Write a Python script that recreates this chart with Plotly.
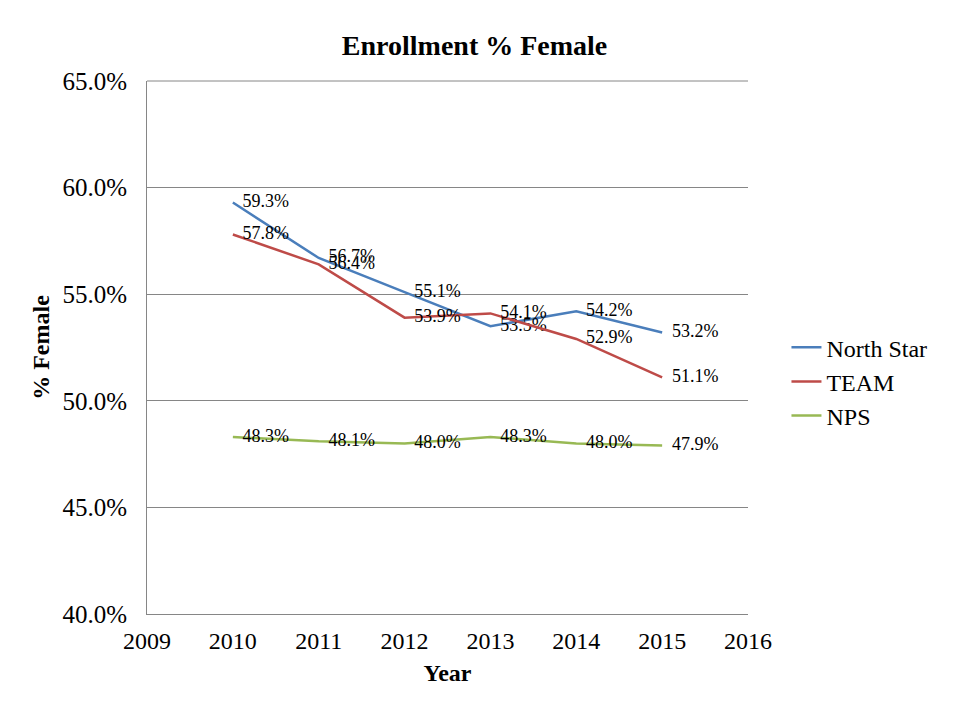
import plotly.graph_objects as go

years = [2010, 2011, 2012, 2013, 2014, 2015]
north_star = [59.3, 56.7, 55.1, 53.5, 54.2, 53.2]
team = [57.8, 56.4, 53.9, 54.1, 52.9, 51.1]
nps = [48.3, 48.1, 48.0, 48.3, 48.0, 47.9]

series = [
    ("North Star", north_star, "#4a7ebb"),
    ("TEAM", team, "#be4b48"),
    ("NPS", nps, "#98b954"),
]

FONT = "Liberation Serif, Times New Roman, serif"

fig = go.Figure()
for name, vals, color in series:
    fig.add_trace(go.Scatter(
        x=years, y=vals, name=name, mode="lines+markers+text",
        line=dict(color=color, width=2.5),
        marker=dict(size=14, color="rgba(0,0,0,0)", line=dict(width=0)),
        text=[f"{v:.1f}%" for v in vals],
        textposition="middle right",
        textfont=dict(family=FONT, size=18, color="black"),
        cliponaxis=False,
    ))

fig.update_layout(
    width=960, height=720,
    margin=dict(l=139, r=220, t=73, b=114),
    paper_bgcolor="white", plot_bgcolor="white",
    font=dict(family=FONT, color="black"),
    title=dict(text="<b>Enrollment % Female</b>", x=0.486, xanchor="center",
               y=0.949, yanchor="middle", font=dict(family=FONT, size=28)),
    showlegend=True,
    legend=dict(x=1.064, xanchor="left", y=0.436, yanchor="middle",
                font=dict(family=FONT, size=24), tracegroupgap=0,
                itemwidth=30, bgcolor="rgba(0,0,0,0)"),
    xaxis=dict(range=[2009, 2016], dtick=1, tick0=2009, showgrid=False,
               showline=True, linecolor="#868686", linewidth=1, ticks="",
               tickfont=dict(family=FONT, size=24), ticklabelstandoff=5,
               title=dict(text="<b>Year</b>", font=dict(family=FONT, size=24), standoff=11),
               zeroline=False),
    yaxis=dict(range=[40, 65], dtick=5, tick0=40, showgrid=True,
               gridcolor="#868686", gridwidth=1,
               showline=True, linecolor="#868686", linewidth=1, ticks="",
               tickformat=".1f", ticksuffix="%",
               tickfont=dict(family=FONT, size=25), ticklabelstandoff=14,
               title=dict(text="<b>% Female</b>", font=dict(family=FONT, size=24), standoff=6),
               zeroline=False),
)

fig.add_shape(type="line", xref="paper", yref="paper", x0=0, x1=1, y0=1, y1=1,
              line=dict(color="#868686", width=1))

fig.write_html("out.html")
